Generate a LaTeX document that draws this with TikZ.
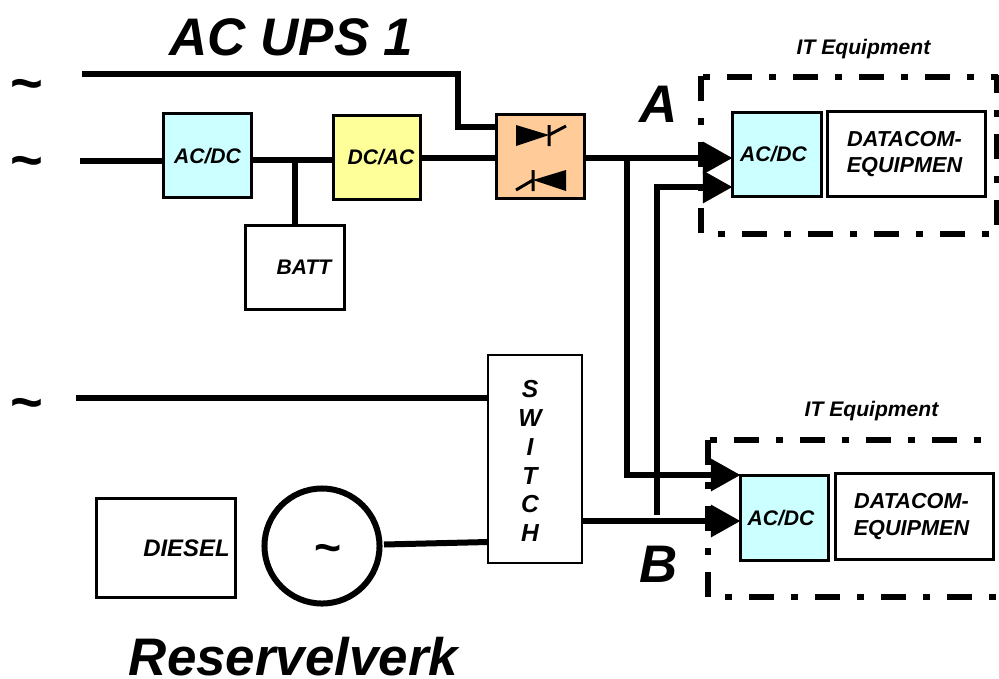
\documentclass[tikz,border=0pt]{standalone}
\usepackage{fontspec}
\setmainfont{Liberation Sans}
\usetikzlibrary{arrows.meta}
\tikzstyle{box}=[draw=black, line width=0.075cm, inner sep=0pt, outer sep=0pt, font=\bfseries\itshape\fontsize{15}{17}\selectfont, align=center]
\tikzstyle{databox}=[box, font=\bfseries\itshape\fontsize{15.4}{19}\selectfont]
\tikzstyle{wire}=[line width=0.15cm]
\tikzstyle{feed}=[wire, -{Triangle[length=0.74cm, width=0.78cm]}]
\tikzstyle{itzone}=[line width=0.15cm, dash pattern=on 0.625cm off 0.425cm on 0.175cm off 0.425cm]
\tikzstyle{title}=[inner sep=0pt, font=\bfseries\itshape\fontsize{37.6}{40}\selectfont]
\tikzstyle{itlabel}=[inner sep=0pt, font=\bfseries\itshape\fontsize{15}{17}\selectfont]
\tikzstyle{mains}=[inner sep=0pt, font=\bfseries\fontsize{40}{40}\selectfont]
\definecolor{dccyan}{HTML}{CCFFFF}
\definecolor{acyellow}{HTML}{FFFF99}
\definecolor{ssorange}{HTML}{FFCC99}

\begin{document}
\begin{tikzpicture}[x=0.025cm, y=-0.025cm]
\useasboundingbox (0,0) rectangle (999,678);
% titles
\node[title] (ups) at (291.5,37){AC UPS 1};
\node[title] (reserve) at (293.5,657){Reservelverk};
\node[title] (lblA) at (659,104){A};
\node[title] (lblB) at (658.5,564){B};
\node[itlabel] (itA) at (863.5,49){IT Equipment};
\node[itlabel] (itB) at (871.5,411){IT Equipment};
% sources
\node[mains] (srcA) at (27,91){\char`\~};
\node[mains] (srcB) at (27,168){\char`\~};
\node[mains] (srcC) at (27,410){\char`\~};
% UPS path
\node[box, fill=dccyan, minimum width=2.2cm, minimum height=2.1cm] (rect) at (207.5,155.7){AC/DC};
\node[box, fill=acyellow, minimum width=2.175cm, minimum height=2.1cm] (inv) at (377,157.5){\hspace*{0.2cm}DC/AC};
\node[box, minimum width=2.475cm, minimum height=2.1cm] (batt) at (295,267.5){\hspace*{0.45cm}BATT};
\node[box, fill=ssorange, minimum width=2.2cm, minimum height=2.1cm] (stat) at (540.5,156.5){};
\fill (516,125) -- (516,146) -- (549,135) -- cycle;
\draw[line width=0.075cm] (549,125) -- (549,146) (549,135) -- (566,126);
\fill (566,170) -- (566,191) -- (533,180) -- cycle;
\draw[line width=0.075cm] (533,170) -- (533,191) (533,180) -- (516,190);
% reserve path
\node[box, line width=0.0625cm, minimum width=2.34cm, minimum height=5.19cm] (sw) at (535,459){};
\node[inner sep=0pt, align=center, font=\bfseries\itshape\fontsize{17.5}{20.5}\selectfont] (swlbl) at (530,461){S\\W\\I\\T\\C\\H};
\node[box, minimum width=3.475cm, minimum height=2.475cm, font=\bfseries\itshape\fontsize{17}{19}\selectfont] (diesel) at (166,548){\hspace*{1.025cm}DIESEL};
\node[box, circle, line width=0.15cm, minimum size=2.875cm] (gen) at (322,546){};
\node[mains, font=\bfseries\fontsize{33}{33}\selectfont] (genlbl) at (328.5,554){\char`\~};
% load A
\draw[itzone] (701,76) -- (701,233);
\draw[itzone, dash phase=1cm] (701,77) -- (998,77);
\draw[itzone, dash phase=0.625cm] (701,234) -- (998,234);
\draw[itzone, dash phase=0.175cm] (997,75) -- (997,234);
\node[box, fill=dccyan, minimum width=2.225cm, minimum height=2.1cm] (loadA) at (777,154.5){AC/DC\hspace*{0.175cm}};
\node[databox, minimum width=3.95cm, minimum height=2.125cm] (dataA) at (906.5,154){DATACOM-\hspace*{0.1cm}\\EQUIPMEN\hspace*{0.1cm}};
% load B
\draw[itzone] (708,440) -- (708,597);
\draw[itzone, dash phase=1cm] (708,440) -- (998,440);
\draw[itzone, dash phase=0.625cm] (708,597) -- (998,597);
\node[box, fill=dccyan, minimum width=2.2cm, minimum height=2.125cm] (loadB) at (784.5,518){AC/DC\hspace*{0.175cm}};
\node[databox, minimum width=3.95cm, minimum height=2.15cm] (dataB) at (914.5,516.5){DATACOM-\hspace*{0.15cm}\\EQUIPMEN\hspace*{0.15cm}};
% junctions
\coordinate (inA) at (82,74);
\coordinate (inB) at (80,160.5);
\coordinate (inC) at (76,398);
\coordinate (inD) at (657,515);
\coordinate (genout) at (384,544.5);
\coordinate (tapA) at (295,160);
\coordinate (tapB) at (627,158);
% wires
\draw[wire] (inA) -- (458,74) -- (458,127) -- (stat.west |- 0,127);
\draw[wire] (inB) -- (rect.west |- inB);
\draw[wire] (rect.east |- tapA) -- (inv.west |- tapA);
\draw[wire] (tapA) -- (batt.north);
\draw[wire] (inv.east |- 0,158) -- (stat.west |- 0,158);
\draw[wire] (inC) -- (sw.west |- inC);
\draw[wire] (genout) -- (sw.west |- 0,542);
\draw[feed] (stat.east |- tapB) -- (loadA.west |- tapB);
\draw[feed] (inD) -- (657,187) -- (loadA.west |- 0,187);
\draw[feed] (tapB) -- (627,475) -- (loadB.west |- 0,475);
\draw[feed] (sw.east |- 0,521) -- (loadB.west |- 0,521);
\end{tikzpicture}
\end{document}
